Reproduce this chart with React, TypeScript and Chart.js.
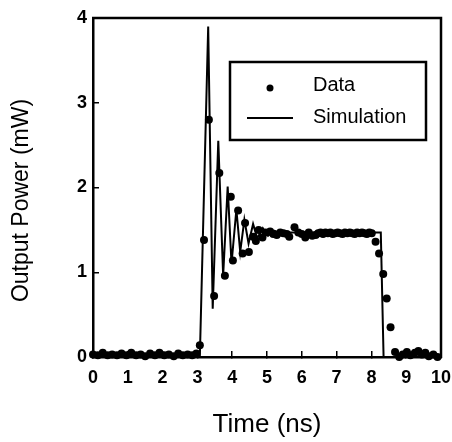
import { useEffect, useRef } from "react";
import { Chart, registerables } from "chart.js";

Chart.register(...registerables);

const xTicks = [0, 1, 2, 3, 4, 5, 6, 7, 8, 9, 10];
const yTicks = [0, 1, 2, 3, 4];
const xTitle = "Time (ns)";
const yTitle = "Output Power (mW)";
const legendLabels = ["Data", "Simulation"];

const simTime = [0, 3.07, 3.31, 3.44, 3.6, 3.74, 3.87, 3.98, 4.12, 4.23, 4.35, 4.47, 4.6, 4.72, 4.88, 5.03, 5.2, 5.4, 5.6, 8.27, 8.35, 10];
const simPower = [0, 0, 3.9, 0.57, 2.55, 0.96, 2.01, 1.1, 1.74, 1.24, 1.62, 1.34, 1.57, 1.4, 1.52, 1.43, 1.49, 1.46, 1.47, 1.47, 0, 0];

const dataTime = [
  0, 0.14, 0.28, 0.42, 0.55, 0.69, 0.82, 0.96, 1.1, 1.24, 1.37, 1.5, 1.64, 1.78, 1.91, 2.05, 2.18, 2.32, 2.45, 2.58, 2.72, 2.85, 2.97,
  3.07, 3.19, 3.33, 3.48, 3.63, 3.79, 3.96, 4.02, 4.17, 4.3, 4.37, 4.48, 4.6, 4.68, 4.76, 4.87, 4.96, 5.09, 5.18, 5.28, 5.38, 5.47,
  5.57, 5.64, 5.79, 5.9, 6.0, 6.1, 6.2, 6.3, 6.4,
  6.47, 6.54, 6.61, 6.68, 6.75, 6.82, 6.89, 6.96, 7.03, 7.1, 7.17, 7.24, 7.31, 7.38, 7.45, 7.52, 7.59, 7.66, 7.73, 7.8, 7.87, 7.94, 8.01,
  8.12, 8.22, 8.34, 8.44, 8.55, 8.68, 8.8, 8.9, 9.02, 9.12, 9.25, 9.35, 9.45, 9.55, 9.65, 9.78, 9.9,
];
const dataPower = [
  0.03, 0.02, 0.05, 0.02, 0.03, 0.02, 0.04, 0.02, 0.05, 0.02, 0.03, 0.01, 0.04, 0.02, 0.05, 0.02, 0.03, 0.01, 0.04, 0.02, 0.03, 0.02, 0.04,
  0.14, 1.38, 2.8, 0.72, 2.17, 0.96, 1.89, 1.14, 1.73, 1.22, 1.58, 1.24, 1.42, 1.37, 1.5, 1.41, 1.47, 1.48, 1.45, 1.44, 1.47, 1.46,
  1.45, 1.42, 1.53, 1.47, 1.45, 1.41, 1.47, 1.43, 1.44,
  1.46, 1.47, 1.45, 1.47, 1.46, 1.47, 1.45, 1.46, 1.47, 1.46, 1.45, 1.47, 1.46, 1.47, 1.46, 1.45, 1.47, 1.46, 1.47, 1.46, 1.45, 1.47, 1.46,
  1.36, 1.22, 0.98, 0.69, 0.35, 0.06, 0.0, 0.03, 0.06, 0.02, 0.05, 0.07, 0.03, 0.05, 0.01, 0.03, 0.0,
];

const FONT = "'Liberation Sans', Arial, sans-serif";

const extrasPlugin = {
  id: "extras",
  afterDatasetsDraw(chart: any) {
    const { ctx, chartArea } = chart;
    const { left, right, top, bottom } = chartArea;
    ctx.save();
    // top and right frame
    ctx.strokeStyle = "#000";
    ctx.lineWidth = 2.5;
    ctx.beginPath();
    ctx.moveTo(left - 1, top);
    ctx.lineTo(right, top);
    ctx.lineTo(right, bottom + 1);
    ctx.stroke();

    // y axis title
    ctx.save();
    ctx.translate(left - 71, (top + bottom) / 2 + 13);
    ctx.rotate(-Math.PI / 2);
    ctx.fillStyle = "#000";
    ctx.font = `23px ${FONT}`;
    ctx.textAlign = "center";
    ctx.textBaseline = "middle";
    ctx.fillText(yTitle, 0, 0);
    ctx.restore();

    // legend box
    const bx = left + 137;
    const by = top + 44;
    const bw = 196;
    const bh = 78;
    ctx.fillStyle = "#fff";
    ctx.fillRect(bx, by, bw, bh);
    ctx.lineWidth = 2.5;
    ctx.strokeStyle = "#000";
    ctx.strokeRect(bx, by, bw, bh);

    ctx.fillStyle = "#000";
    ctx.beginPath();
    ctx.arc(bx + 40, by + 26, 3.5, 0, Math.PI * 2);
    ctx.fill();

    ctx.beginPath();
    ctx.lineWidth = 2;
    ctx.moveTo(bx + 17, by + 56);
    ctx.lineTo(bx + 63, by + 56);
    ctx.stroke();

    ctx.font = `20px ${FONT}`;
    ctx.textAlign = "left";
    ctx.textBaseline = "middle";
    ctx.fillText(legendLabels[0], bx + 83, by + 23);
    ctx.fillText(legendLabels[1], bx + 83, by + 55);
    ctx.restore();
  },
};

export default function App() {
  const canvasRef = useRef<HTMLCanvasElement | null>(null);

  useEffect(() => {
    if (!canvasRef.current) return;
    const chart = new Chart(canvasRef.current, {
      type: "scatter",
      data: {
        datasets: [
          {
            label: legendLabels[1],
            data: simTime.map((t, i) => ({ x: t, y: simPower[i] })),
            showLine: true,
            borderColor: "#000",
            borderWidth: 2,
            pointRadius: 0,
            tension: 0,
            order: 2,
          },
          {
            label: legendLabels[0],
            data: dataTime.map((t, i) => ({ x: t, y: dataPower[i] })),
            showLine: false,
            backgroundColor: "#000",
            borderWidth: 0,
            pointRadius: 4,
            clip: false as any,
            order: 1,
          },
        ],
      },
      options: {
        animation: false,
        responsive: true,
        maintainAspectRatio: false,
        layout: { padding: { left: 0, right: 11, top: 18, bottom: 0 } },
        plugins: {
          legend: { display: false },
          tooltip: { enabled: false },
        },
        scales: {
          x: {
            type: "linear",
            min: xTicks[0],
            max: xTicks[xTicks.length - 1],
            afterBuildTicks: (scale: any) => {
              scale.ticks = xTicks.map((v) => ({ value: v }));
            },
            afterFit: (scale: any) => {
              scale.height = 85;
              scale.paddingLeft = 0;
              scale.paddingRight = 0;
            },
            border: { display: true, color: "#000", width: 2.5 },
            grid: { drawOnChartArea: false, drawTicks: true, tickLength: -6, color: "#000", lineWidth: 1.5 },
            ticks: {
              padding: 16,
              color: "#000",
              font: { family: FONT, size: 18, weight: "bold" },
              maxRotation: 0,
              autoSkip: false,
            },
            title: {
              display: true,
              text: xTitle,
              color: "#000",
              font: { family: FONT, size: 26 },
              padding: { top: 0, bottom: 2 },
            },
          },
          y: {
            type: "linear",
            min: yTicks[0],
            max: yTicks[yTicks.length - 1],
            afterBuildTicks: (scale: any) => {
              scale.ticks = yTicks.map((v) => ({ value: v }));
            },
            afterFit: (scale: any) => {
              scale.width = 93;
              scale.paddingTop = 0;
              scale.paddingBottom = 0;
            },
            border: { display: true, color: "#000", width: 2.5 },
            grid: { drawOnChartArea: false, drawTicks: true, tickLength: -6, color: "#000", lineWidth: 1.5 },
            ticks: {
              padding: 12,
              color: "#000",
              font: { family: FONT, size: 18, weight: "bold" },
              autoSkip: false,
            },
          },
        },
      },
      plugins: [extrasPlugin],
    });
    return () => chart.destroy();
  }, []);

  return (
    <div style={{ position: "absolute", left: 0, top: 0, width: 452, height: 442, background: "#fff" }}>
      <canvas ref={canvasRef} />
    </div>
  );
}
